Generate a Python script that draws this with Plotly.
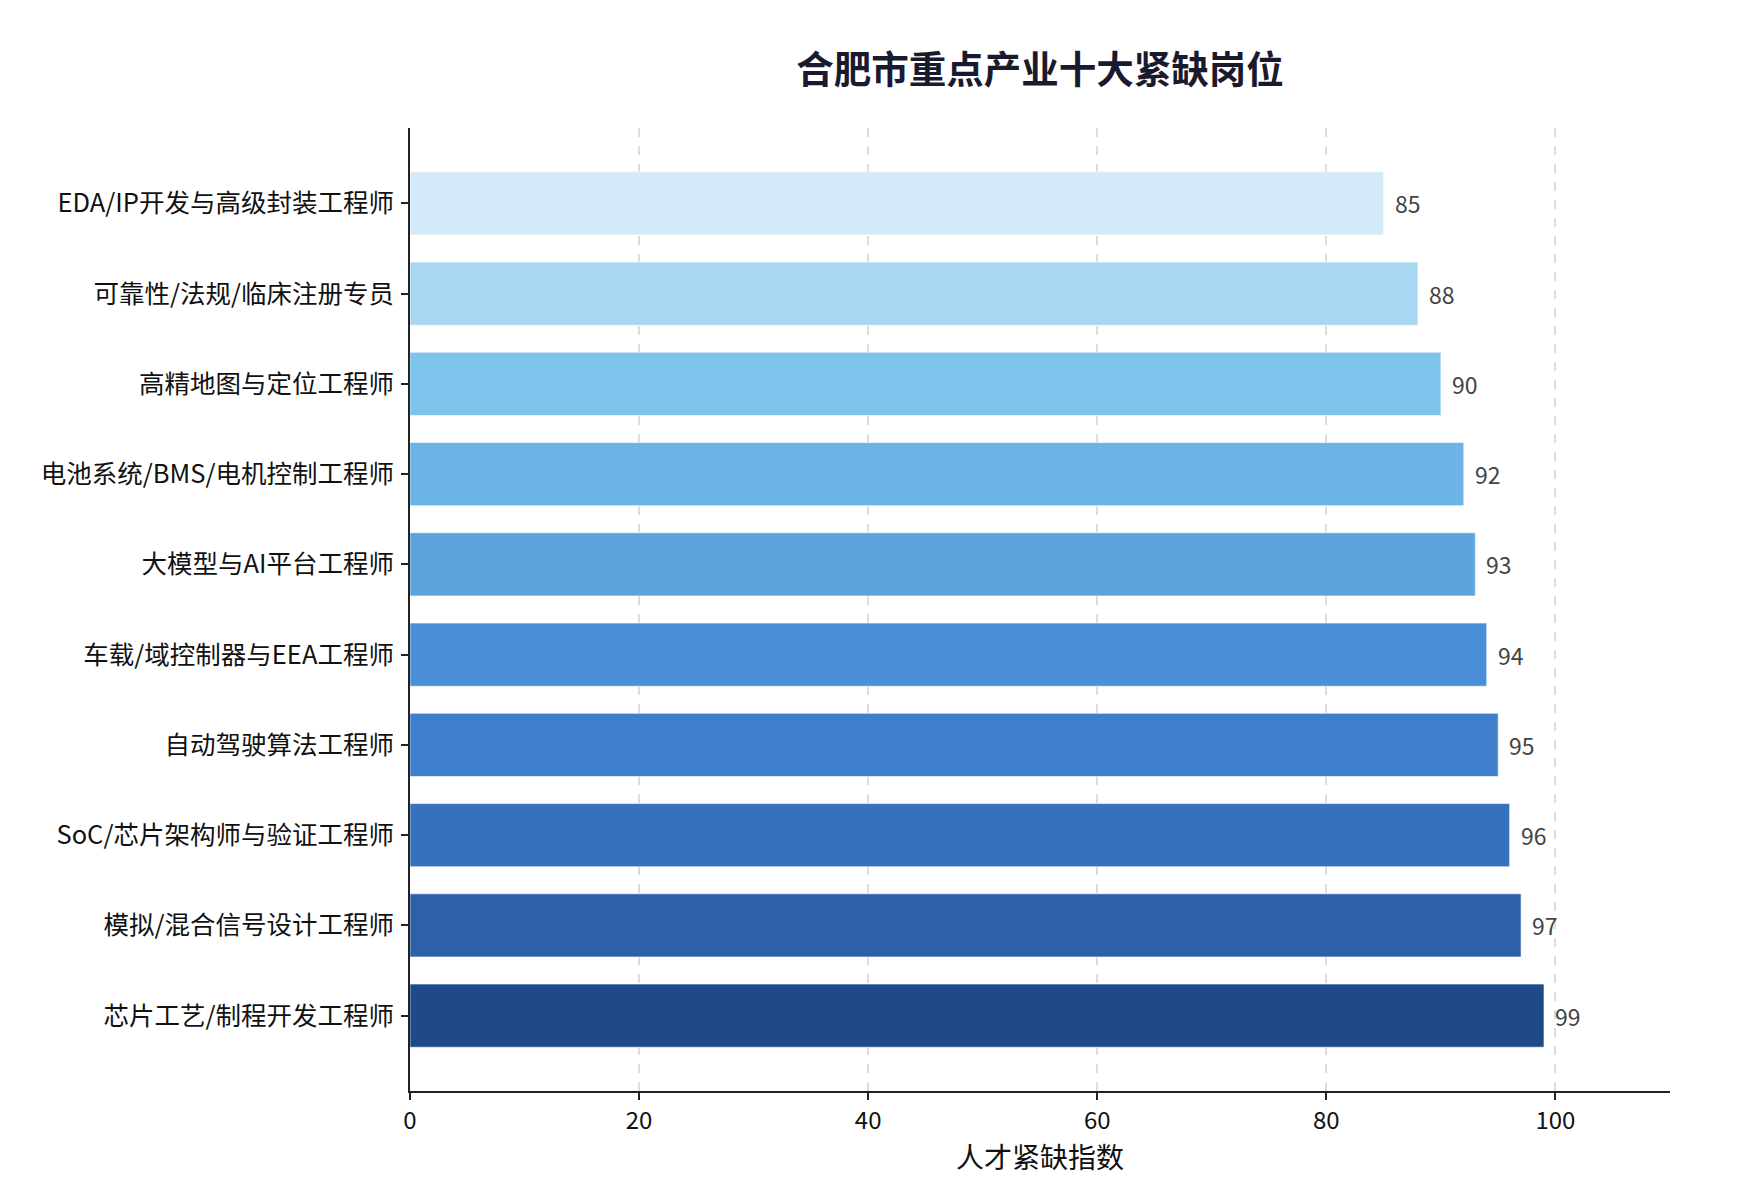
import plotly.graph_objects as go

# Data (bottom to top)
categories = [
    "芯片工艺/制程开发工程师",
    "模拟/混合信号设计工程师",
    "SoC/芯片架构师与验证工程师",
    "自动驾驶算法工程师",
    "车载/域控制器与EEA工程师",
    "大模型与AI平台工程师",
    "电池系统/BMS/电机控制工程师",
    "高精地图与定位工程师",
    "可靠性/法规/临床注册专员",
    "EDA/IP开发与高级封装工程师",
]
values = [99, 97, 96, 95, 94, 93, 92, 90, 88, 85]
bar_colors = [
    "#1f4a8a", "#2e5fa8", "#3571bc", "#3d7fcb", "#4a8fd8",
    "#5ca3dd", "#6cb4e7", "#7cc4ec", "#a7d7f2", "#d4eaf8",
]
x_ticks = [0, 20, 40, 60, 80, 100]

FONT = "Noto Sans CJK SC"

fig = go.Figure()
fig.add_trace(go.Bar(
    y=categories,
    x=values,
    orientation="h",
    width=0.7,
    marker=dict(color=bar_colors, line=dict(color="rgba(255,255,255,0.6)", width=1)),
    hoverinfo="x+y",
    showlegend=False,
))

annotations = []
for c, v in zip(categories, values):
    annotations.append(dict(
        x=v, y=c, xref="x", yref="y", text=str(v), showarrow=False,
        xanchor="left", yanchor="middle", xshift=9,
        font=dict(family=FONT, size=23, color="#444444"),
    ))

# page body has an 8px default margin; margins compensate for it
fig.update_layout(
    width=1750, height=1190,
    paper_bgcolor="white", plot_bgcolor="white",
    margin=dict(l=402, r=88, t=120, b=107),
    title=dict(
        text="<b>合肥市重点产业十大紧缺岗位</b>",
        x=(402 + 1662) / 2 / 1750, xanchor="center",
        y=1 - 62 / 1190, yanchor="middle",
        font=dict(family=FONT, size=37.5, color="#1a1a2e"),
    ),
    font=dict(family=FONT, size=24, color="#111111"),
    annotations=annotations,
    xaxis=dict(
        range=[0, 110],
        tickmode="array", tickvals=x_ticks, ticktext=[str(t) for t in x_ticks],
        showgrid=True, gridcolor="#dddddd", griddash="dash", gridwidth=1.5,
        zeroline=False,
        showline=True, linecolor="#222222", linewidth=2,
        ticks="outside", ticklen=7, tickwidth=1.5, tickcolor="#222222",
        tickfont=dict(family=FONT, size=24, color="#111111"),
        title=dict(text="人才紧缺指数", font=dict(family=FONT, size=28, color="#111111"), standoff=8),
    ),
    yaxis=dict(
        type="category",
        range=[-0.835, 9.835],
        showgrid=False, zeroline=False,
        showline=True, linecolor="#222222", linewidth=2,
        ticks="outside", ticklen=7, tickwidth=1.5, tickcolor="#222222",
        tickfont=dict(family=FONT, size=25.5, color="#111111"),
        ticklabelstandoff=2,
    ),
)

fig.write_html("out.html")
